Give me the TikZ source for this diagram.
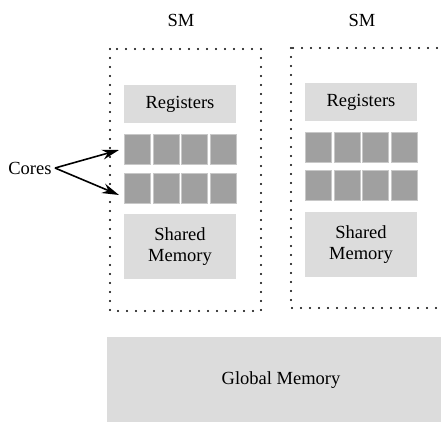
\documentclass[tikz,border=0pt]{standalone}
\usepackage{fontspec}
\setmainfont{Liberation Serif}
\usetikzlibrary{arrows.meta}
\definecolor{memgray}{HTML}{DCDCDC}
\definecolor{coregray}{HTML}{A0A0A0}
\definecolor{coreedge}{HTML}{C8C8C8}
\begin{document}
\begin{tikzpicture}[x=1pt,y=-1pt,
  lbl/.style={font=\fontsize{18.5}{20}\selectfont, text=black},
  membox/.style={fill=memgray, draw=none, inner sep=0pt, align=center, font=\fontsize{18.5}{21.5}\selectfont, text=black},
  corebox/.style={fill=coregray, draw=coreedge, line width=0.7pt, inner sep=0pt, minimum width=26pt, minimum height=30pt},
  smbox/.style={draw=black, line width=2.4pt, dash pattern=on 0pt off 9pt, line cap=round},
  pointer/.style={draw=black, line width=1.6pt, -{Stealth[length=17pt,width=10pt]}}]
\useasboundingbox (0,0) rectangle (441,421);
% SM boxes
\draw[smbox] (110,49) rectangle (261,311);
\draw[smbox] (291,48) rectangle (446,308);
\node[lbl] (sm1) at (181,20) {SM};
\node[lbl] (sm2) at (362,20) {SM};
% Registers
\node[membox, minimum width=112pt, minimum height=38pt] (reg1) at (180,104) {Registers};
\node[membox, minimum width=112pt, minimum height=38pt] (reg2) at (361,102) {Registers};
% Cores
\foreach \i in {0,1,2,3} {
  \node[corebox] (a\i) at (137.3+28.6*\i,149.5) {};
  \node[corebox] (b\i) at (137.3+28.6*\i,188) {};
  \node[corebox] (c\i) at (318.3+28.6*\i,147.5) {};
  \node[corebox] (d\i) at (318.3+28.6*\i,185.5) {};
}
% Shared memory
\node[membox, minimum width=112pt, minimum height=65pt] (sh1) at (180,246.5) {Shared\\Memory};
\node[membox, minimum width=112pt, minimum height=65pt] (sh2) at (361,244.5) {Shared\\Memory};
% Global memory
\node[membox, minimum width=348pt, minimum height=86pt] (glob) at (281,380) {Global Memory};
% Cores label and arrows
\node[lbl, anchor=east] (cores) at (55,168) {Cores};
\coordinate (t1) at (119,150);
\coordinate (t2) at (119,195);
\draw[pointer] (cores.east) -- (t1);
\draw[pointer] (cores.east) -- (t2);
\end{tikzpicture}
\end{document}
